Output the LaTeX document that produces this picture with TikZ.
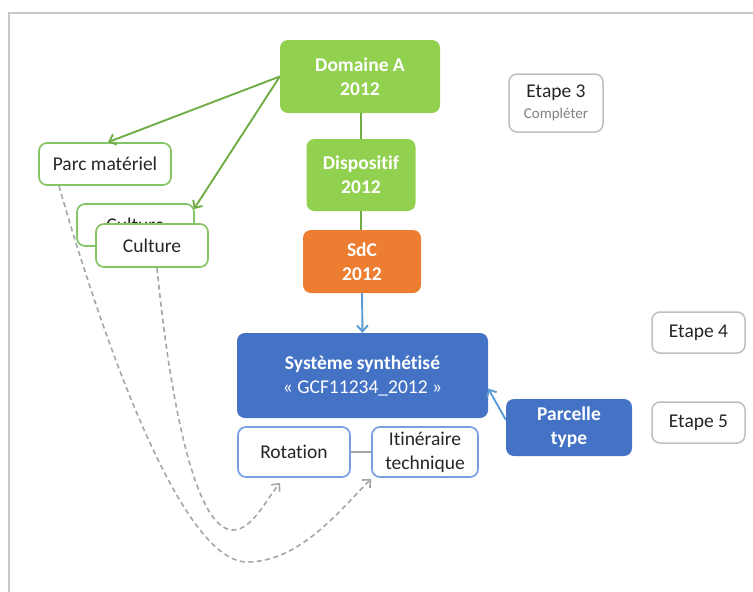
\documentclass[tikz,border=0pt]{standalone}
\usepackage{fontspec}
\setmainfont{Carlito}[Ligatures={NoCommon,TeX}]
\usetikzlibrary{arrows.meta}
\definecolor{gfill}{HTML}{92D050}
\definecolor{gline}{HTML}{70AD47}
\definecolor{gborder}{HTML}{86C46A}
\definecolor{bfill}{HTML}{4472C4}
\definecolor{bborder}{HTML}{7A9FE0}
\definecolor{barrow}{HTML}{5B9BD5}
\definecolor{ofill}{HTML}{ED7D31}
\definecolor{etgray}{HTML}{BFBFBF}
\definecolor{dgray}{HTML}{A6A6A6}
\definecolor{framegray}{HTML}{C8C8C8}
\definecolor{txt}{HTML}{262626}
\tikzset{
  base/.style={rounded corners=8pt, align=center, inner sep=0pt, font=\fontsize{19.5}{24}\selectfont},
  solidbox/.style={base, font=\fontsize{19.5}{24}\selectfont\bfseries, text=white},
  gbox/.style={solidbox, fill=gfill},
  obox/.style={solidbox, fill=ofill},
  bbox/.style={solidbox, fill=bfill},
  goutline/.style={base, draw=gborder, line width=1.7pt, fill=white, text=txt},
  boutline/.style={base, draw=bborder, line width=1.7pt, fill=white, text=txt},
  etbox/.style={base, draw=etgray, line width=1.5pt, fill=white, text=txt},
  garrow/.style={draw=gline, line width=1.9pt, -{Straight Barb[length=6pt,width=11pt]}},
  gconn/.style={draw=gline, line width=1.9pt},
  barrowst/.style={draw=barrow, line width=1.9pt, -{Straight Barb[length=6pt,width=11pt]}},
  darrow/.style={draw=dgray, line width=1.6pt, dash pattern=on 5pt off 3.5pt, -{Straight Barb[length=6pt,width=11pt]}},
}
\begin{document}
\begin{tikzpicture}[x=1pt,y=-1pt]
\useasboundingbox (0,0) rectangle (753,592);
\draw[framegray, line width=2pt] (9,592) -- (9,13) -- (753,13);

% Green chain
\node[gbox, minimum width=160pt, minimum height=73pt] (dom) at (360,76.5) {Domaine A\\2012};
\node[gbox, minimum width=109pt, minimum height=72pt] (disp) at (361,175) {Dispositif\\2012};
\node[obox, minimum width=118pt, minimum height=63pt] (sdc) at (362,261.5) {SdC\\2012};
\node[bbox, minimum width=251pt, minimum height=85pt] (sys) at (362.5,375.5) {Système synthétisé\\{\mdseries « GCF11234\_2012 »}};
\node[bbox, minimum width=126pt, minimum height=57pt] (parcelle) at (569,427.5) {Parcelle\\type};

\draw[gconn] (dom.south -| disp.north) -- (disp.north);
\draw[gconn] (disp.south) -- (disp.south |- sdc.north);
\draw[barrowst] (sdc.south) -- (sys.north);
\draw[barrowst] ([xshift=0pt,yshift=-21pt]parcelle.north west) -- ([yshift=-13pt]sys.east);

% Left boxes
\node[goutline, minimum width=132pt, minimum height=42pt] (parc) at (105,164) {Parc matériel};
\node[goutline, minimum width=117pt, minimum height=42pt] (cultb) at (135.5,225) {Culture};
\node[goutline, minimum width=112pt, minimum height=43pt] (cultf) at (152,245.5) {Culture};

\draw[garrow] (dom.west) -- ([xshift=3pt]parc.north);
\draw[garrow] (dom.west) -- ([yshift=-6pt,xshift=-1pt]cultb.north east);

% Rotation / Itineraire
\node[boutline, minimum width=112pt, minimum height=50pt] (rot) at (294,452) {Rotation};
\node[boutline, minimum width=106pt, minimum height=50pt] (itin) at (425,452) {Itinéraire\\technique};
\draw[dgray, line width=1.2pt] (rot.east) -- (itin.west);

% Dashed curves
\draw[darrow] ([xshift=5pt]cultf.south) .. controls (170,400) and (195,530) .. (233,530)
  .. controls (252,530) and (266,500) .. ([xshift=-14pt,yshift=-5pt]rot.south);
\draw[darrow] ([xshift=-46pt]parc.south) .. controls (100,330) and (180,562) .. (247,562)
  .. controls (300,562) and (340,510) .. ([yshift=-1pt]itin.south west);

% Etapes
\node[etbox, minimum width=94pt, minimum height=58pt] (e3) at (556,103) {Etape 3\\[-3pt]{\fontsize{15}{18}\selectfont\color{gray} Compléter}};
\node[etbox, minimum width=93pt, minimum height=41pt] (e4) at (698.5,332.5) {Etape 4};
\node[etbox, minimum width=93pt, minimum height=41pt] (e5) at (698.5,422.5) {Etape 5};
\end{tikzpicture}
\end{document}
